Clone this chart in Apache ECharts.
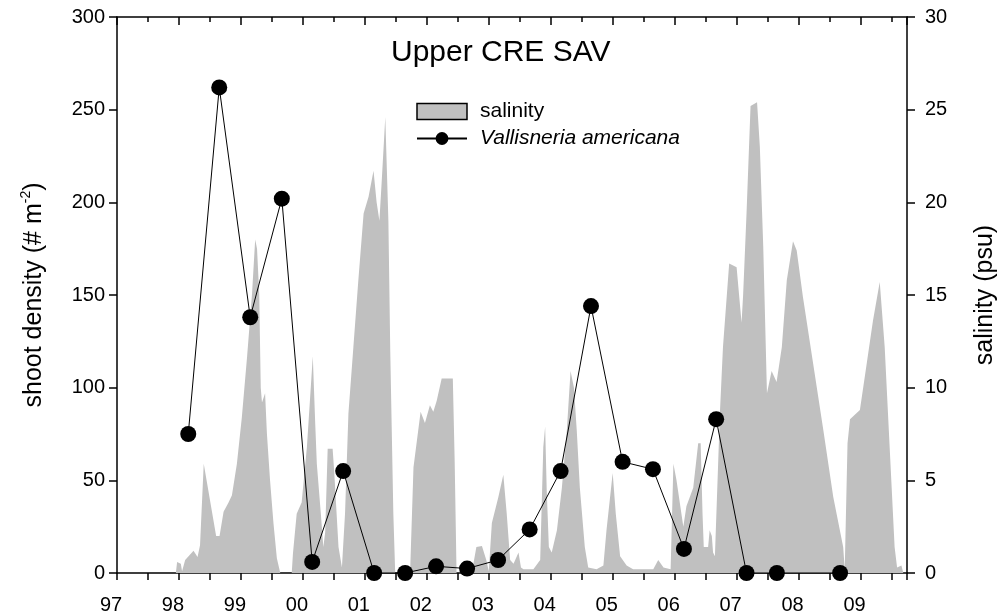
<!DOCTYPE html>
<html>
<head>
<meta charset="utf-8">
<script src="https://cdn.jsdelivr.net/npm/echarts@6/dist/echarts.min.js"></script>
<style>
html,body{margin:0;padding:0;background:#fff;}
#chart{width:1001px;height:616px;}
</style>
</head>
<body>
<div id="chart"></div>
<script>
// Vallisneria americana shoot density (# m-2), sampling dates as decimal years
var vallYears = [1998.15, 1998.65, 1999.15, 1999.66, 2000.15, 2000.65, 2001.15, 2001.65, 2002.15, 2002.65, 2003.15, 2003.66, 2004.16, 2004.65, 2005.16, 2005.65, 2006.15, 2006.67, 2007.16, 2007.65, 2008.67];
var vallValues = [75, 262, 138, 202, 6, 55, 0, 0, 3.6, 2.4, 7, 23.5, 55, 144, 60, 56, 13, 83, 0, 0, 0];

// salinity (psu), decimal years
var salYears = [1997.95,1997.97,1998.03,1998.05,1998.10,1998.235,1998.30,1998.34,1998.40,1998.60,1998.655,1998.72,1998.80,1998.855,1998.935,1999.015,1999.10,1999.18,1999.23,1999.26,1999.295,1999.32,1999.34,1999.39,1999.42,1999.47,1999.525,1999.58,1999.635,1999.82,1999.84,1999.90,1999.98,2000.065,2000.16,2000.20,2000.225,2000.29,2000.33,2000.36,2000.40,2000.48,2000.505,2000.575,2000.63,2000.68,2000.735,2000.815,2000.895,2000.98,2001.06,2001.14,2001.19,2001.235,2001.27,2001.33,2001.38,2001.41,2001.46,2001.49,2001.73,2001.785,2001.90,2001.97,2002.05,2002.105,2002.16,2002.24,2002.42,2002.45,2002.48,2002.725,2002.80,2002.89,2002.96,2003.00,2003.05,2003.155,2003.235,2003.29,2003.345,2003.40,2003.48,2003.52,2003.56,2003.72,2003.83,2003.88,2003.91,2003.935,2003.97,2004.016,2004.10,2004.18,2004.26,2004.32,2004.375,2004.42,2004.47,2004.55,2004.605,2004.74,2004.85,2004.90,2005.00,2005.05,2005.12,2005.225,2005.33,2005.655,2005.735,2005.82,2005.935,2005.98,2006.03,2006.14,2006.19,2006.30,2006.38,2006.42,2006.45,2006.47,2006.54,2006.565,2006.60,2006.62,2006.65,2006.73,2006.78,2006.88,2007.00,2007.08,2007.105,2007.16,2007.225,2007.33,2007.375,2007.43,2007.49,2007.565,2007.645,2007.73,2007.81,2007.91,2007.97,2008.07,2008.235,2008.40,2008.56,2008.72,2008.745,2008.79,2008.83,2008.99,2009.10,2009.20,2009.31,2009.39,2009.47,2009.55,2009.59,2009.66,2009.69];
var salValues = [0,0.6,0.5,0.1,0.7,1.2,0.86,1.5,5.9,2.0,2.0,3.3,3.8,4.2,5.9,8.4,11.7,15.1,18.0,17.5,15.1,10.0,9.2,9.7,7.5,5.0,2.7,0.8,0,0,1.06,3.2,3.8,6.8,11.7,8.0,5.9,3.2,1.4,2.2,6.7,6.7,5.5,1.4,0.3,3.2,8.6,12.2,15.8,19.4,20.3,21.7,20.0,19.0,21.0,24.6,19.0,12.0,3.2,0,0,5.7,8.7,8.1,9.05,8.7,9.3,10.5,10.5,6.0,0,0,1.4,1.46,0.7,0.1,2.7,4.1,5.3,3.2,0.7,0.5,1.1,0.3,0.2,0.2,0.7,6.8,7.9,4.5,1.4,1.1,2.3,4.6,7.7,10.9,10.0,7.7,4.6,1.4,0.3,0.2,0.4,2.3,5.4,3.2,0.9,0.4,0.2,0.2,0.7,0.3,0.2,5.9,5.0,2.5,3.6,4.6,7.0,7.0,3.2,1.4,1.4,2.3,2.0,1.1,0.9,8.6,12.2,16.7,16.5,13.5,15.0,19.4,25.2,25.4,23.0,17.6,9.7,10.9,10.3,12.2,15.8,17.9,17.4,14.9,11.3,7.7,4.1,1.4,0.2,7.0,8.3,8.8,11.3,13.6,15.7,12.2,6.8,1.4,0.3,0.4,0];

var xMin = 1997, xMax = 2009.75;
var leftTicks = {min: 0, max: 300, interval: 50};
var rightTicks = {min: 0, max: 30, interval: 5};

var FONT = 'Liberation Sans, Arial, sans-serif';

var vallData = vallYears.map(function (y, i) { return [y, vallValues[i]]; });
var salData = salYears.map(function (y, i) { return [y, salValues[i]]; });

function axisLine(show) {
  return {show: show, onZero: false, lineStyle: {color: '#000', width: 1.5}};
}

var chart = echarts.init(document.getElementById('chart'), null, {renderer: 'canvas'});
chart.setOption({
  backgroundColor: '#fff',
  animation: false,
  title: {
    text: 'Upper CRE SAV',
    left: 386, top: 33,
    textStyle: {fontFamily: FONT, fontSize: 30, fontWeight: 'normal', color: '#000'}
  },
  legend: {
    orient: 'vertical',
    left: 411, top: 96,
    itemWidth: 50, itemHeight: 16, itemGap: 6,
    textStyle: {fontFamily: FONT, fontSize: 21, color: '#000', padding: [0, 0, 0, 8]},
    data: [
      {name: 'salinity', icon: 'rect', itemStyle: {color: '#c0c0c0', borderColor: '#000', borderWidth: 1.5}},
      {name: 'Vallisneria americana', textStyle: {fontStyle: 'italic'}}
    ]
  },
  grid: {left: 117, right: 94, top: 17, bottom: 43, containLabel: false, outerBoundsMode: 'none'},
  xAxis: [
    {
      type: 'value', position: 'bottom', min: xMin, max: xMax, interval: 0.5,
      axisLine: axisLine(true),
      axisTick: {show: true, inside: false, length: 7, interval: 0, lineStyle: {color: '#000', width: 1.5}},
      splitLine: {show: false},
      axisLabel: {
        interval: 0, margin: 22, fontFamily: FONT, fontSize: 20, color: '#000', padding: [0, 12, 0, 0],
        formatter: function (v) {
          if (Math.abs(v - Math.round(v)) > 1e-6) return '';
          var s = String(Math.round(v) % 100);
          return s.length < 2 ? '0' + s : s;
        }
      }
    },
    {
      type: 'value', position: 'top', min: xMin, max: xMax, interval: 0.5,
      axisLine: axisLine(true),
      axisTick: {show: true, inside: true, length: 5, interval: 0, lineStyle: {color: '#000', width: 1.5}},
      axisLabel: {show: false}, splitLine: {show: false}
    },
    {
      type: 'value', position: 'top', min: xMin, max: xMax, interval: 1,
      axisLine: axisLine(false),
      axisTick: {show: true, inside: true, length: 8, interval: 0, lineStyle: {color: '#000', width: 1.5}},
      axisLabel: {show: false}, splitLine: {show: false}
    }
  ],
  yAxis: [
    {
      type: 'value', position: 'left', min: leftTicks.min, max: leftTicks.max, interval: leftTicks.interval,
      axisLine: axisLine(true),
      axisTick: {show: true, inside: false, length: 8, lineStyle: {color: '#000', width: 1.5}},
      splitLine: {show: false},
      axisLabel: {margin: 12, fontFamily: FONT, fontSize: 20, color: '#000'},
      name: '{a|shoot density (# m}{s|-2}{a|)}',
      nameLocation: 'middle', nameRotate: 90, nameGap: 68,
      nameTextStyle: {
        fontFamily: FONT, color: '#000',
        rich: {
          a: {fontFamily: FONT, fontSize: 25, color: '#000', lineHeight: 30},
          s: {fontFamily: FONT, fontSize: 14, color: '#000', verticalAlign: 'top', lineHeight: 30}
        }
      }
    },
    {
      type: 'value', position: 'right', min: rightTicks.min, max: rightTicks.max, interval: rightTicks.interval,
      axisLine: axisLine(true),
      axisTick: {show: true, inside: false, length: 8, lineStyle: {color: '#000', width: 1.5}},
      splitLine: {show: false},
      axisLabel: {margin: 18, fontFamily: FONT, fontSize: 20, color: '#000'},
      name: 'salinity (psu)',
      nameLocation: 'middle', nameRotate: 90, nameGap: 66,
      nameTextStyle: {fontFamily: FONT, fontSize: 25, color: '#000'}
    }
  ],
  series: [
    {
      name: 'salinity', type: 'line', xAxisIndex: 0, yAxisIndex: 1,
      data: salData, showSymbol: false, symbol: 'none',
      lineStyle: {width: 0, color: '#c0c0c0'},
      itemStyle: {color: '#c0c0c0'},
      areaStyle: {color: '#c0c0c0', opacity: 1},
      z: 1, silent: true
    },
    {
      name: 'Vallisneria americana', type: 'line', xAxisIndex: 0, yAxisIndex: 0,
      data: vallData, symbol: 'circle', symbolSize: 16, clip: false,
      lineStyle: {width: 1, color: '#000'},
      itemStyle: {color: '#000'},
      z: 5
    }
  ]
});
</script>
</body>
</html>
